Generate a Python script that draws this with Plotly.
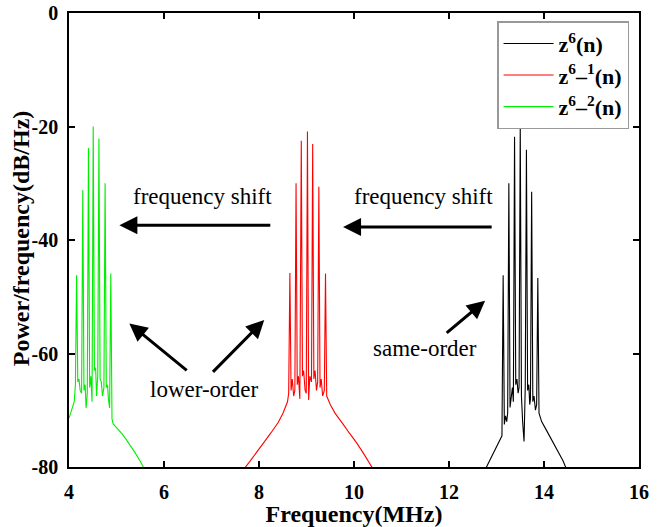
import plotly.graph_objects as go

# ---- data ----
green_f = [4.00, 4.06, 4.11, 4.135, 4.16, 4.185, 4.21, 4.235, 4.265, 4.29, 4.315, 4.34, 4.36,
           4.385, 4.41, 4.435, 4.46, 4.485, 4.51, 4.535, 4.56, 4.58, 4.605, 4.63,
           4.655, 4.68, 4.705, 4.735, 4.76, 4.785, 4.81, 4.83, 4.855, 4.88, 4.905, 4.93,
           5.00, 5.10, 5.20, 5.30, 5.40, 5.50, 5.60, 5.65]
green_db = [-71.4, -70.0, -68.5, -65.5, -46.2, -65.0, -64.5, -66.5, -67.0, -31.2, -66.5, -65.5, -69.6,
            -67.0, -23.8, -66.0, -64.0, -68.5, -20.0, -63.0, -62.5, -67.5, -64.0, -22.1,
            -64.5, -65.0, -67.5, -66.0, -30.0, -66.0, -65.5, -68.0, -69.6, -45.9, -71.5, -72.4,
            -73.0, -74.0, -75.1, -76.3, -77.6, -79.0, -80.5, -81.3]

red_f = [7.60, 7.67, 7.80, 7.95, 8.10, 8.25, 8.40, 8.50, 8.60, 8.625, 8.65, 8.675, 8.70, 8.73,
         8.755, 8.78, 8.805, 8.83, 8.86, 8.89, 8.915, 8.94, 8.97, 8.995, 9.02, 9.045, 9.07,
         9.105, 9.13, 9.155, 9.18, 9.21, 9.235, 9.26, 9.285, 9.31, 9.34, 9.375, 9.40,
         9.425, 9.50, 9.60, 9.71, 9.80, 9.90, 10.00, 10.06, 10.20, 10.30, 10.41, 10.47]
red_db = [-81.5, -80.5, -79.1, -77.5, -75.7, -74.0, -72.2, -70.6, -68.5, -67.0, -45.8, -66.5, -64.5, -67.5,
          -66.5, -30.0, -65.5, -64.0, -68.0, -22.5, -64.0, -63.0, -66.5, -67.0, -20.9, -68.2, -64.0,
          -65.0, -23.1, -64.5, -63.0, -66.5, -65.0, -30.6, -66.0, -64.5, -67.5, -66.5, -45.9,
          -67.5, -69.0, -70.5, -71.7, -72.8, -74.0, -75.1, -75.8, -77.6, -78.9, -80.5, -81.3]

black_f = [12.70, 12.76, 12.85, 12.93, 13.02, 13.08, 13.115, 13.14, 13.165, 13.19, 13.215, 13.235, 13.26,
           13.285, 13.31, 13.335, 13.355, 13.38, 13.405, 13.43, 13.455, 13.475, 13.50, 13.525, 13.55,
           13.58, 13.605, 13.63, 13.655, 13.68, 13.70, 13.715, 13.74, 13.765, 13.79, 13.82, 13.845, 13.87,
           13.895, 13.95, 14.05, 14.13, 14.22, 14.30, 14.40, 14.48, 14.55]
black_db = [-81.5, -80.5, -79.0, -77.6, -76.2, -75.2, -74.5, -46.2, -72.5, -71.0, -72.0, -70.5, -30.0,
            -69.5, -68.0, -66.0, -68.5, -21.8, -65.5, -64.5, -67.0, -66.0, -19.7, -67.5, -72.0,
            -75.5, -66.0, -24.1, -66.5, -65.5, -69.0, -68.0, -31.5, -68.5, -67.5, -70.0, -69.0, -46.7,
            -70.5, -72.0, -73.5, -74.7, -76.1, -77.3, -78.9, -80.5, -81.6]

x_ticks = [4, 6, 8, 10, 12, 14, 16]
y_ticks = [0, -20, -40, -60, -80]

FONT = "Liberation Serif"

fig = go.Figure()
fig.add_trace(go.Scatter(x=black_f, y=black_db, mode="lines", name="<b>z<sup>6</sup>(n)</b>",
                         line=dict(color="black", width=1.1)))
fig.add_trace(go.Scatter(x=red_f, y=red_db, mode="lines", name="<b>z<sup>6</sup>–<sup>1</sup>(n)</b>",
                         line=dict(color="#ff0000", width=1.1)))
fig.add_trace(go.Scatter(x=green_f, y=green_db, mode="lines", name="<b>z<sup>6</sup>–<sup>2</sup>(n)</b>",
                         line=dict(color="#00ee00", width=1.1)))

axis_common = dict(
    showline=True, linecolor="black", linewidth=1.5, mirror="ticks",
    ticks="inside", ticklen=6, tickwidth=1.5, tickcolor="black",
    showgrid=False, zeroline=False, automargin=False,
    tickfont=dict(family=FONT, size=20, color="black", weight="bold"),
)

fig.update_xaxes(range=[4, 16], tickvals=x_ticks, ticktext=[str(v) for v in x_ticks],
                 ticklabelstandoff=6,
                 title=dict(text="<b>Frequency(MHz)</b>", font=dict(family=FONT, size=24, color="black"),
                            standoff=1),
                 **axis_common)
fig.update_yaxes(range=[-80, 0], tickvals=y_ticks, ticktext=[str(v) for v in y_ticks],
                 ticklabelstandoff=5,
                 **axis_common)

arrow = dict(xref="x", yref="y", axref="x", ayref="y", showarrow=True, arrowhead=2,
             arrowsize=1.2, arrowwidth=3, arrowcolor="black", text="")
anns = [
    dict(x=5.06, y=-37.4, ax=8.27, ay=-37.4, **arrow),
    dict(x=9.77, y=-37.7, ax=12.93, ay=-37.7, **arrow),
    dict(x=5.27, y=-54.7, ax=6.51, ay=-63.2, **arrow),
    dict(x=8.11, y=-54.1, ax=7.00, ay=-63.5, **arrow),
    dict(x=12.76, y=-50.7, ax=11.92, ay=-56.6, **arrow),
]
txt = dict(xref="x", yref="y", showarrow=False, font=dict(family=FONT, size=23, color="black"))
anns += [
    dict(x=6.80, y=-32.3, text="frequency shift", **txt),
    dict(x=11.47, y=-32.3, text="frequency shift", **txt),
    dict(x=6.84, y=-66.4, text="lower-order", **txt),
    dict(x=11.49, y=-59.2, text="same-order", **txt),
    dict(xref="paper", yref="paper", x=-0.0842, y=0.504, xanchor="center", yanchor="middle",
         showarrow=False, textangle=-90,
         text="<b>Power/frequency(dB/Hz)</b>", font=dict(family=FONT, size=24, color="black")),
]

fig.update_layout(
    width=660, height=527,
    margin=dict(l=69, r=21, t=13, b=60),
    plot_bgcolor="white", paper_bgcolor="white",
    annotations=anns,
    legend=dict(x=0.751, y=0.982, xanchor="left", yanchor="top",
                bgcolor="white", bordercolor="#999999", borderwidth=1.5,
                font=dict(family=FONT, size=22, color="black"),
                tracegroupgap=0, itemwidth=50),
    showlegend=True,
)

fig.write_html("out.html")
